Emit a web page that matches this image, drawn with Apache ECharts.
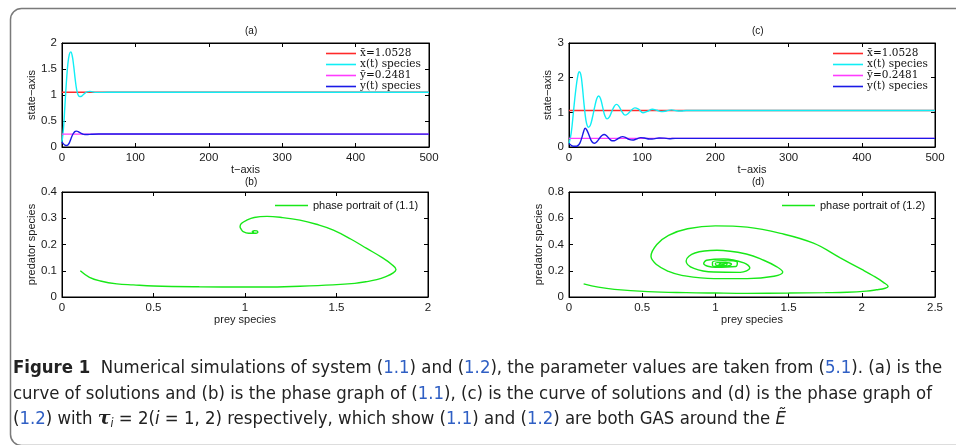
<!DOCTYPE html>
<html>
<head>
<meta charset="utf-8">
<script src="https://cdn.jsdelivr.net/npm/echarts@6/dist/echarts.min.js"></script>
<style>
  html, body { margin: 0; padding: 0; background: #fff; }
  #chart { width: 956px; height: 445px; }
</style>
</head>
<body>
<div id="chart"></div>
<script>
// ---- time series of system (1.1): panel (a) ----
const xBar = 1.0528;
const yBar = 0.2481;
const tRange = [0, 500];

const xSeriesA = [
  [0, 0.1], [2, 0.35], [4, 0.8], [6, 1.25], [8, 1.6], [10, 1.78], [12, 1.83], [14, 1.75],
  [16, 1.55], [18, 1.3], [20, 1.1], [22, 1.0], [24, 0.97], [27, 0.98], [30, 1.02], [34, 1.06],
  [38, 1.07], [42, 1.06], [46, 1.05], [55, 1.05], [70, 1.053], [500, 1.0528]
];
const ySeriesA = [
  [0, 0.1], [2, 0.06], [4, 0.035], [6, 0.028], [8, 0.04], [10, 0.08], [12, 0.15], [14, 0.22],
  [16, 0.27], [18, 0.3], [20, 0.305], [22, 0.295], [25, 0.27], [28, 0.25], [31, 0.24],
  [35, 0.24], [40, 0.245], [50, 0.249], [500, 0.2481]
];

// ---- time series of system (1.2): panel (c) ----
const xSeriesC = [
  [0, 0.1], [3, 0.4], [6, 1.0], [9, 1.6], [12, 2.05], [14, 2.17], [16, 2.1], [18, 1.8],
  [20, 1.35], [22, 0.95], [24, 0.68], [26.5, 0.57], [29, 0.62], [32, 0.85], [35, 1.15],
  [38, 1.4], [40.5, 1.47], [43, 1.4], [46, 1.15], [49, 0.9], [52, 0.81], [55, 0.86],
  [58, 1.0], [62, 1.18], [65, 1.23], [68, 1.18], [72, 1.03], [76.5, 0.92], [80, 0.95],
  [85, 1.06], [90, 1.13], [95, 1.09], [101, 0.99], [107, 1.03], [114, 1.09], [120, 1.06],
  [126, 1.02], [133, 1.04], [140, 1.07], [147, 1.045], [153, 1.04], [160, 1.055],
  [170, 1.053], [500, 1.0528]
];
const ySeriesC = [
  [0, 0.1], [3, 0.05], [6, 0.02], [9, 0.02], [12, 0.04], [15, 0.12], [18, 0.3], [20, 0.45],
  [22, 0.54], [24, 0.5], [27, 0.36], [30, 0.2], [33, 0.12], [35, 0.11], [38, 0.15],
  [42, 0.26], [45, 0.33], [48, 0.36], [51, 0.33], [55, 0.24], [59, 0.18], [62, 0.18],
  [66, 0.23], [70, 0.28], [73, 0.3], [77, 0.28], [82, 0.22], [87, 0.2], [92, 0.23],
  [98, 0.27], [103, 0.26], [110, 0.23], [116, 0.235], [123, 0.26], [130, 0.255],
  [137, 0.24], [145, 0.25], [160, 0.25], [500, 0.2481]
];

// ---- phase portraits (prey, predator) ----
const phaseB = [
  [0.1, 0.1], [0.15, 0.075], [0.21, 0.061], [0.3, 0.05], [0.39, 0.046], [0.5, 0.042],
  [0.75, 0.039], [1.0, 0.038], [1.11, 0.038], [1.3, 0.041], [1.48, 0.046], [1.6, 0.052],
  [1.66, 0.058], [1.72, 0.066], [1.77, 0.078], [1.81, 0.092], [1.825, 0.105], [1.8, 0.125],
  [1.75, 0.15], [1.665, 0.185], [1.58, 0.22], [1.483, 0.255], [1.39, 0.277], [1.3, 0.293],
  [1.2, 0.303], [1.12, 0.307], [1.05, 0.303], [1.01, 0.293], [0.98, 0.28], [0.973, 0.268],
  [0.98, 0.257], [0.99, 0.249], [1.02, 0.243], [1.05, 0.243], [1.07, 0.247], [1.065, 0.252],
  [1.05, 0.253], [1.04, 0.249], [1.05, 0.247]
];
const phaseD = [
  [0.1, 0.1], [0.2, 0.075], [0.31, 0.058], [0.54, 0.041], [0.8, 0.033], [1.0, 0.03],
  [1.217, 0.028], [1.5, 0.03], [1.75, 0.033], [1.9, 0.036], [2.03, 0.045], [2.1, 0.055],
  [2.16, 0.067], [2.18, 0.08], [2.15, 0.11], [2.08, 0.16], [2.0, 0.21], [1.85, 0.3],
  [1.67, 0.41], [1.445, 0.485], [1.217, 0.532], [1.0, 0.542], [0.81, 0.52], [0.68, 0.47],
  [0.6, 0.4], [0.56, 0.31], [0.6, 0.245], [0.68, 0.195], [0.77, 0.165], [0.99, 0.14],
  [1.217, 0.14], [1.4, 0.158], [1.46, 0.19], [1.42, 0.23], [1.33, 0.28], [1.217, 0.326],
  [1.01, 0.356], [0.86, 0.335], [0.8, 0.275], [0.853, 0.218], [0.99, 0.19], [1.17, 0.188],
  [1.235, 0.222], [1.195, 0.26], [1.058, 0.29], [0.94, 0.28], [0.92, 0.255], [1.0, 0.226],
  [1.14, 0.232], [1.15, 0.262], [1.05, 0.277], [0.98, 0.265], [0.98, 0.24], [1.06, 0.232],
  [1.11, 0.25], [1.07, 0.264], [1.0, 0.258], [1.01, 0.24], [1.07, 0.241], [1.08, 0.254],
  [1.04, 0.258], [1.025, 0.247], [1.055, 0.244], [1.06, 0.252], [1.045, 0.251], [1.05, 0.249]
];

// ---- axis ranges [min, max, step] ----
const yRangeA = [0, 2, 0.5];
const yRangeC = [0, 3, 1];
const xRangeB = [0, 2, 0.5];
const yRangeB = [0, 0.4, 0.1];
const xRangeD = [0, 2.5, 0.5];
const yRangeD = [0, 0.8, 0.2];

const legendNames = ['x\u0304=1.0528', 'x(t) species', 'y\u0304=0.2481', 'y(t) species'];
const phaseNames = ['phase portrait of (1.1)', 'phase portrait of (1.2)'];

const COL = { red: '#ff2a2a', cyan: '#10eef5', magenta: '#ff3cff', blue: '#1a1ae6', green: '#18e818' };
const SANS = '"Liberation Sans", Arial, Helvetica, sans-serif';
const SERIF = '"DejaVu Serif", "Liberation Serif", serif';

const grids = [
  { left: 62, top: 43, width: 367, height: 104 },   // (a)
  { left: 569, top: 43, width: 366, height: 104 },  // (c)
  { left: 62, top: 192, width: 366, height: 105 },  // (b)
  { left: 569, top: 192, width: 366, height: 105 }  // (d)
];

function axisPair(dim, gridIndex, range, name, nameGap) {
  const base = {
    gridIndex, type: 'value', min: range[0], max: range[1], interval: range[2],
    axisLine: { show: true, onZero: false, lineStyle: { color: '#000', width: 1 } },
    axisTick: { show: true, inside: true, length: 4, lineStyle: { color: '#000' } },
    splitLine: { show: false }
  };
  const main = Object.assign({}, base, {
    position: dim === 'x' ? 'bottom' : 'left',
    axisLabel: { show: true, color: '#1a1a1a', fontSize: 11.5, fontFamily: SANS, margin: 5 },
    name, nameLocation: 'middle', nameGap,
    nameTextStyle: { color: '#1a1a1a', fontSize: 11, fontFamily: SANS }
  });
  const mirror = Object.assign({}, base, {
    position: dim === 'x' ? 'top' : 'right',
    axisLabel: { show: false }
  });
  return [main, mirror];
}

const xAxes = [].concat(
  axisPair('x', 0, [tRange[0], tRange[1], 100], 't\u2212axis', 16),
  axisPair('x', 1, [tRange[0], tRange[1], 100], 't\u2212axis', 16),
  axisPair('x', 2, xRangeB, 'prey species', 16),
  axisPair('x', 3, xRangeD, 'prey species', 16)
);
const yAxes = [].concat(
  axisPair('y', 0, yRangeA, 'state\u2212axis', 19),
  axisPair('y', 1, yRangeC, 'state\u2212axis', 16),
  axisPair('y', 2, yRangeB, 'predator species', 21),
  axisPair('y', 3, yRangeD, 'predator species', 22)
);

function line(name, data, color, axisIdx, smooth) {
  return {
    name, type: 'line', data, xAxisIndex: axisIdx * 2, yAxisIndex: axisIdx * 2,
    showSymbol: false, symbol: 'none', smooth: smooth, animation: false,
    lineStyle: { color, width: 1.4 }, itemStyle: { color }
  };
}

const series = [
  line(legendNames[0], [[tRange[0], xBar], [tRange[1], xBar]], COL.red, 0, false),
  line(legendNames[1], xSeriesA, COL.cyan, 0, 0.4),
  line(legendNames[2], [[tRange[0], yBar], [tRange[1], yBar]], COL.magenta, 0, false),
  line(legendNames[3], ySeriesA, COL.blue, 0, 0.4),
  line(legendNames[0], [[tRange[0], xBar], [tRange[1], xBar]], COL.red, 1, false),
  line(legendNames[1], xSeriesC, COL.cyan, 1, 0.4),
  line(legendNames[2], [[tRange[0], yBar], [tRange[1], yBar]], COL.magenta, 1, false),
  line(legendNames[3], ySeriesC, COL.blue, 1, 0.4),
  line(phaseNames[0], phaseB, COL.green, 2, 0.4),
  line(phaseNames[1], phaseD, COL.green, 3, 0.4)
];

function stateLegend(left) {
  return {
    left, top: 48, padding: 0, orient: 'vertical', itemGap: 0, itemWidth: 30, itemHeight: 10,
    icon: 'path://M0,4.2H30V5.8H0Z', selectedMode: false,
    data: legendNames,
    textStyle: { fontFamily: SERIF, fontSize: 10.5, color: '#111', lineHeight: 10, padding: [0, 0, 0, -1] }
  };
}
function phaseLegend(left, name) {
  return {
    left, top: 200, padding: 0, orient: 'vertical', itemWidth: 33, itemHeight: 10,
    icon: 'path://M0,4.2H33V5.8H0Z', selectedMode: false,
    data: [name],
    textStyle: { fontFamily: SANS, fontSize: 11, color: '#111' }
  };
}

function panelTitle(text, x, y) {
  return { type: 'text', left: x, top: y, style: { text, font: '10px ' + SANS, fill: '#111', textAlign: 'center' } };
}

const CAP_FONT = '"DejaVu Sans Condensed", "Liberation Sans Narrow", sans-serif';
const CAP_SIZE = 18.4;
const capRich = {
  b: { fontWeight: 'bold', fontSize: CAP_SIZE, fontFamily: CAP_FONT, fill: '#222' },
  l: { fontSize: CAP_SIZE, fontFamily: CAP_FONT, fill: '#2f5fc4' },
  tau: { fontSize: 19, fontFamily: SERIF, fontWeight: 'bold', fontStyle: 'italic', fill: '#222' },
  sub: { fontSize: 12, fontFamily: CAP_FONT, fontStyle: 'italic', fill: '#222', padding: [8, 0, 0, 0] },
  it: { fontSize: CAP_SIZE, fontFamily: CAP_FONT, fontStyle: 'italic', fill: '#222' }
};
const captionLines = [
  '{b|Figure 1}  Numerical simulations of system ({l|1.1}) and ({l|1.2}), the parameter values are taken from ({l|5.1}). (a) is the',
  'curve of solutions and (b) is the phase graph of ({l|1.1}), (c) is the curve of solutions and (d) is the phase graph of',
  '({l|1.2}) with {tau|\u03c4}{sub|i} = 2({it|i} = 1, 2) respectively, which show ({l|1.1}) and ({l|1.2}) are both GAS around the {it|\u1EBC}'
];

function captionText(str, y) {
  return {
    type: 'text', left: 13, top: y,
    style: { text: str, rich: capRich, fontSize: CAP_SIZE, fontFamily: CAP_FONT, fill: '#222' }
  };
}

const chart = echarts.init(document.getElementById('chart'), null, { renderer: 'canvas' });
chart.setOption({
  backgroundColor: '#fff',
  animation: false,
  grid: grids.map(g => Object.assign({ show: true, borderColor: '#000', borderWidth: 1, backgroundColor: '#fff' }, g)),
  xAxis: xAxes,
  yAxis: yAxes,
  legend: [stateLegend(326), stateLegend(833), phaseLegend(275, phaseNames[0]), phaseLegend(782, phaseNames[1])],
  series,
  graphic: [
    {
      type: 'rect', left: 8, top: 6, z: -1,
      shape: { width: 970, height: 437, r: 11 },
      style: { fill: 'none', stroke: '#7a7a7a', lineWidth: 1.5 }
    },
    panelTitle('(a)', 245, 26),
    panelTitle('(c)', 752, 26),
    panelTitle('(b)', 245, 177),
    panelTitle('(d)', 752, 177),
    captionText(captionLines[0], 359),
    captionText(captionLines[1], 385),
    captionText(captionLines[2], 410)
  ]
});
</script>
</body>
</html>
